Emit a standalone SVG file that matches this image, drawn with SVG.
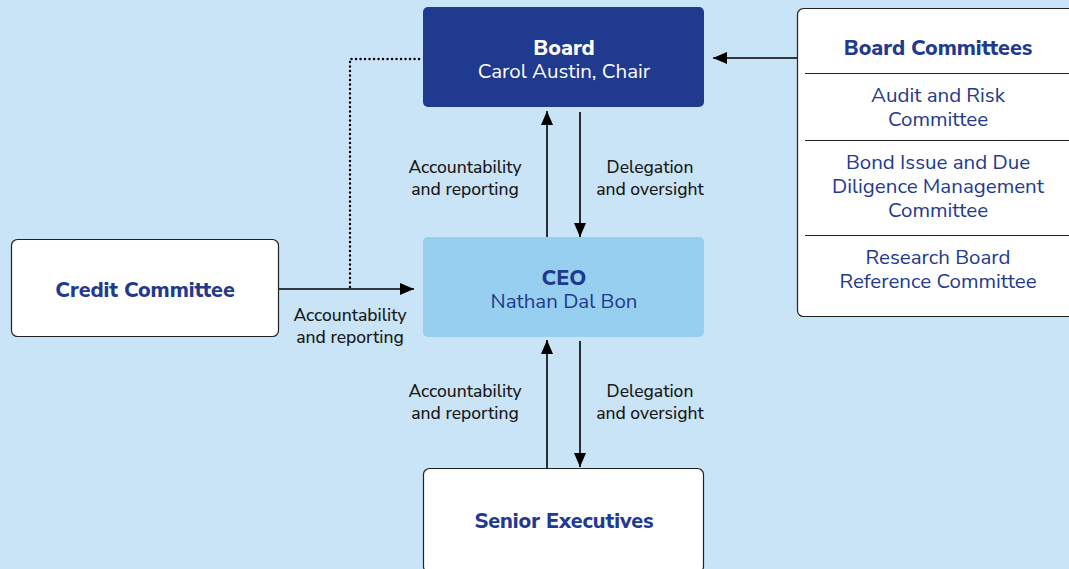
<svg xmlns="http://www.w3.org/2000/svg" width="1069" height="569" viewBox="0 0 1069 569">
  <style>
    .t { font-family: "Nunito Sans", "Noto Sans", "Liberation Sans", sans-serif; text-anchor: middle; }
    .title { font-size: 21.5px; font-weight: 800; }
    .sub { font-size: 20.5px; font-weight: 400; }
    .navy { fill: #1F3A8E; }
    .white { fill: #FFFFFF; }
    .lbl { font-size: 17.5px; font-weight: 500; fill: #1A1A1A; }
    .line { stroke: #000; stroke-width: 1.6; fill: none; }
    .box { fill: #FFFFFF; stroke: #222; stroke-width: 1.2; }
  </style>
  <defs>
    <marker id="arrow" viewBox="0 0 14 12" refX="14" refY="6" markerWidth="14" markerHeight="12" markerUnits="userSpaceOnUse" orient="auto">
      <path d="M0,0 L14,6 L0,12 z" fill="#000"/>
    </marker>
  </defs>

  <rect x="0" y="0" width="1069" height="569" fill="#C9E4F6"/>

  <!-- connectors and their labels -->
  <g id="connectors">
    <path class="line" d="M547,237 V111" marker-end="url(#arrow)"/>
    <path class="line" d="M580,112 V237" marker-end="url(#arrow)"/>
    <path class="line" d="M547,468 V340" marker-end="url(#arrow)"/>
    <path class="line" d="M580,341 V467" marker-end="url(#arrow)"/>
    <path class="line" d="M278,289 H414" marker-end="url(#arrow)"/>
    <path class="line" d="M797,58 H713" marker-end="url(#arrow)"/>
    <path d="M350,287 V59 H423" fill="none" stroke="#000" stroke-width="2.4" stroke-dasharray="0.1 4.4" stroke-linecap="round"/>
    <text class="t lbl" x="465" y="173">Accountability</text>
    <text class="t lbl" x="465" y="195">and reporting</text>
    <text class="t lbl" x="650" y="173">Delegation</text>
    <text class="t lbl" x="650" y="195">and oversight</text>
    <text class="t lbl" x="465" y="397">Accountability</text>
    <text class="t lbl" x="465" y="419">and reporting</text>
    <text class="t lbl" x="650" y="397">Delegation</text>
    <text class="t lbl" x="650" y="419">and oversight</text>
    <text class="t lbl" x="350" y="321">Accountability</text>
    <text class="t lbl" x="350" y="343">and reporting</text>
  </g>

  <g id="board">
    <rect x="423" y="7" width="281" height="100" rx="5" fill="#1F3A8E"/>
    <text class="t title white" x="564" y="55">Board</text>
    <text class="t sub white" x="564" y="78">Carol Austin, Chair</text>
  </g>

  <g id="ceo">
    <rect x="423" y="237" width="281" height="100" rx="5" fill="#97CFF0"/>
    <text class="t title navy" x="564" y="285">CEO</text>
    <text class="t sub navy" x="564" y="308">Nathan Dal Bon</text>
  </g>

  <g id="senior-executives">
    <rect class="box" x="423.5" y="468.5" width="280" height="104" rx="6"/>
    <text class="t title navy" x="564" y="528">Senior Executives</text>
  </g>

  <g id="credit-committee">
    <rect class="box" x="11.5" y="239.5" width="267" height="97" rx="6"/>
    <text class="t title navy" x="145" y="297">Credit Committee</text>
  </g>

  <g id="board-committees">
    <rect class="box" x="797.5" y="8.5" width="280" height="308" rx="6"/>
    <path d="M805,73.5 H1069 M805,140.5 H1069 M805,235.5 H1069" stroke="#222" stroke-width="1.2"/>
    <text class="t title navy" x="938" y="55">Board Committees</text>
    <text class="t sub navy" x="938" y="102">Audit and Risk</text>
    <text class="t sub navy" x="938" y="126">Committee</text>
    <text class="t sub navy" x="938" y="169">Bond Issue and Due</text>
    <text class="t sub navy" x="938" y="193">Diligence Management</text>
    <text class="t sub navy" x="938" y="217">Committee</text>
    <text class="t sub navy" x="938" y="264">Research Board</text>
    <text class="t sub navy" x="938" y="288">Reference Committee</text>
  </g>
</svg>
